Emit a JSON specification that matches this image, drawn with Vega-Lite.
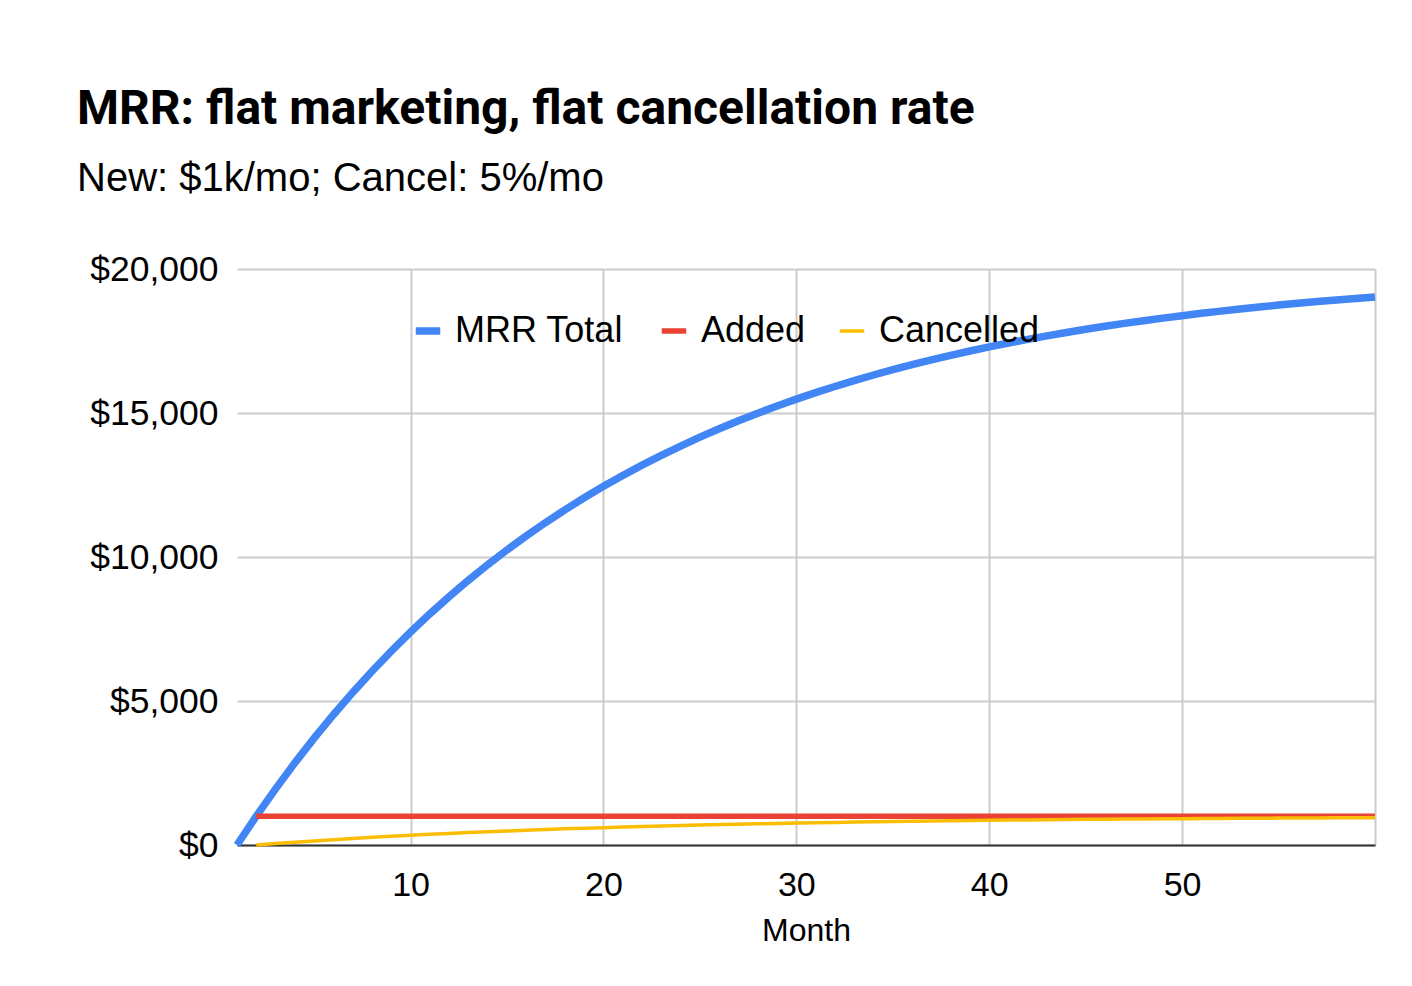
{
"$schema": "https://vega.github.io/schema/vega-lite/v6.json",
"width": 1138,
"height": 576,
"autosize": {"type": "none"},
"padding": {"left": 237, "top": 269, "right": 37, "bottom": 141},
"background": "white",
"title": {"text": "MRR: flat marketing, flat cancellation rate", "subtitle": "New: $1k/mo; Cancel: 5%/mo", "anchor": "start", "frame": "group", "dx": -160, "font": "Roboto", "fontSize": 48, "fontWeight": "bold", "color": "#000000", "subtitleFont": "Liberation Sans", "subtitleFontSize": 40, "subtitleColor": "#000000", "subtitlePadding": 25, "offset": 53},
"config": {"view": {"stroke": null}},
"data": {"values": [
{"Month": 1, "MRR Total": 0, "Added": null, "Cancelled": null},
{"Month": 2, "MRR Total": 1000, "Added": 1000, "Cancelled": 0},
{"Month": 3, "MRR Total": 1950, "Added": 1000, "Cancelled": 50},
{"Month": 4, "MRR Total": 2852, "Added": 1000, "Cancelled": 98},
{"Month": 5, "MRR Total": 3710, "Added": 1000, "Cancelled": 143},
{"Month": 6, "MRR Total": 4524, "Added": 1000, "Cancelled": 185},
{"Month": 7, "MRR Total": 5298, "Added": 1000, "Cancelled": 226},
{"Month": 8, "MRR Total": 6033, "Added": 1000, "Cancelled": 265},
{"Month": 9, "MRR Total": 6732, "Added": 1000, "Cancelled": 302},
{"Month": 10, "MRR Total": 7395, "Added": 1000, "Cancelled": 337},
{"Month": 11, "MRR Total": 8025, "Added": 1000, "Cancelled": 370},
{"Month": 12, "MRR Total": 8624, "Added": 1000, "Cancelled": 401},
{"Month": 13, "MRR Total": 9193, "Added": 1000, "Cancelled": 431},
{"Month": 14, "MRR Total": 9733, "Added": 1000, "Cancelled": 460},
{"Month": 15, "MRR Total": 10247, "Added": 1000, "Cancelled": 487},
{"Month": 16, "MRR Total": 10734, "Added": 1000, "Cancelled": 512},
{"Month": 17, "MRR Total": 11197, "Added": 1000, "Cancelled": 537},
{"Month": 18, "MRR Total": 11638, "Added": 1000, "Cancelled": 560},
{"Month": 19, "MRR Total": 12056, "Added": 1000, "Cancelled": 582},
{"Month": 20, "MRR Total": 12453, "Added": 1000, "Cancelled": 603},
{"Month": 21, "MRR Total": 12830, "Added": 1000, "Cancelled": 623},
{"Month": 22, "MRR Total": 13189, "Added": 1000, "Cancelled": 642},
{"Month": 23, "MRR Total": 13529, "Added": 1000, "Cancelled": 659},
{"Month": 24, "MRR Total": 13853, "Added": 1000, "Cancelled": 676},
{"Month": 25, "MRR Total": 14160, "Added": 1000, "Cancelled": 693},
{"Month": 26, "MRR Total": 14452, "Added": 1000, "Cancelled": 708},
{"Month": 27, "MRR Total": 14730, "Added": 1000, "Cancelled": 723},
{"Month": 28, "MRR Total": 14993, "Added": 1000, "Cancelled": 736},
{"Month": 29, "MRR Total": 15243, "Added": 1000, "Cancelled": 750},
{"Month": 30, "MRR Total": 15481, "Added": 1000, "Cancelled": 762},
{"Month": 31, "MRR Total": 15707, "Added": 1000, "Cancelled": 774},
{"Month": 32, "MRR Total": 15922, "Added": 1000, "Cancelled": 785},
{"Month": 33, "MRR Total": 16126, "Added": 1000, "Cancelled": 796},
{"Month": 34, "MRR Total": 16319, "Added": 1000, "Cancelled": 806},
{"Month": 35, "MRR Total": 16504, "Added": 1000, "Cancelled": 816},
{"Month": 36, "MRR Total": 16678, "Added": 1000, "Cancelled": 825},
{"Month": 37, "MRR Total": 16844, "Added": 1000, "Cancelled": 834},
{"Month": 38, "MRR Total": 17002, "Added": 1000, "Cancelled": 842},
{"Month": 39, "MRR Total": 17152, "Added": 1000, "Cancelled": 850},
{"Month": 40, "MRR Total": 17294, "Added": 1000, "Cancelled": 858},
{"Month": 41, "MRR Total": 17430, "Added": 1000, "Cancelled": 865},
{"Month": 42, "MRR Total": 17558, "Added": 1000, "Cancelled": 871},
{"Month": 43, "MRR Total": 17680, "Added": 1000, "Cancelled": 878},
{"Month": 44, "MRR Total": 17796, "Added": 1000, "Cancelled": 884},
{"Month": 45, "MRR Total": 17907, "Added": 1000, "Cancelled": 890},
{"Month": 46, "MRR Total": 18011, "Added": 1000, "Cancelled": 895},
{"Month": 47, "MRR Total": 18111, "Added": 1000, "Cancelled": 901},
{"Month": 48, "MRR Total": 18205, "Added": 1000, "Cancelled": 906},
{"Month": 49, "MRR Total": 18295, "Added": 1000, "Cancelled": 910},
{"Month": 50, "MRR Total": 18380, "Added": 1000, "Cancelled": 915},
{"Month": 51, "MRR Total": 18461, "Added": 1000, "Cancelled": 919},
{"Month": 52, "MRR Total": 18538, "Added": 1000, "Cancelled": 923},
{"Month": 53, "MRR Total": 18611, "Added": 1000, "Cancelled": 927},
{"Month": 54, "MRR Total": 18681, "Added": 1000, "Cancelled": 931},
{"Month": 55, "MRR Total": 18747, "Added": 1000, "Cancelled": 934},
{"Month": 56, "MRR Total": 18809, "Added": 1000, "Cancelled": 937},
{"Month": 57, "MRR Total": 18869, "Added": 1000, "Cancelled": 940},
{"Month": 58, "MRR Total": 18925, "Added": 1000, "Cancelled": 943},
{"Month": 59, "MRR Total": 18979, "Added": 1000, "Cancelled": 946},
{"Month": 60, "MRR Total": 19030, "Added": 1000, "Cancelled": 949}
]},
"transform": [{"fold": ["MRR Total", "Added", "Cancelled"], "as": ["series", "value"]}],
"mark": {"type": "line", "strokeCap": "butt"},
"encoding": {
"x": {"field": "Month", "type": "quantitative", "scale": {"domain": [1, 60], "nice": false, "zero": false},
"axis": {"values": [10, 20, 30, 40, 50, 60], "labelExpr": "datum.value == 60 ? '' : datum.label", "title": "Month", "labelFont": "Liberation Sans", "labelFontSize": 34, "labelColor": "#000000", "labelPadding": 23, "ticks": false, "domainColor": "#333333", "domainWidth": 2, "grid": true, "gridColor": "#cccccc", "gridWidth": 2, "titleFont": "Liberation Sans", "titleFontSize": 32, "titleFontWeight": "normal", "titleColor": "#000000", "titlePadding": 13}},
"y": {"field": "value", "type": "quantitative", "scale": {"domain": [0, 20000], "nice": false},
"axis": {"values": [0, 5000, 10000, 15000, 20000], "format": "$,.0f", "title": null, "labelFont": "Liberation Sans", "labelFontSize": 35.5, "labelColor": "#000000", "labelPadding": 19, "ticks": false, "domain": false, "grid": true, "gridColor": "#cccccc", "gridWidth": 2}},
"color": {"field": "series", "type": "nominal", "sort": ["MRR Total", "Added", "Cancelled"], "scale": {"domain": ["MRR Total", "Added", "Cancelled"], "range": ["#4285F4", "#EA4335", "#FBBC04"]},
"legend": {"orient": "none", "legendX": 173, "legendY": 44, "direction": "horizontal", "title": null, "symbolType": "stroke", "symbolStrokeWidth": 7, "symbolSize": 600, "labelFont": "Liberation Sans", "labelFontSize": 36, "labelColor": "#000000", "labelOffset": 9, "columnPadding": 26, "labelLimit": 400}},
"strokeWidth": {"field": "series", "type": "nominal", "scale": {"domain": ["MRR Total", "Added", "Cancelled"], "range": [7.5, 3.5, 3.5]}, "legend": null}
}
}
